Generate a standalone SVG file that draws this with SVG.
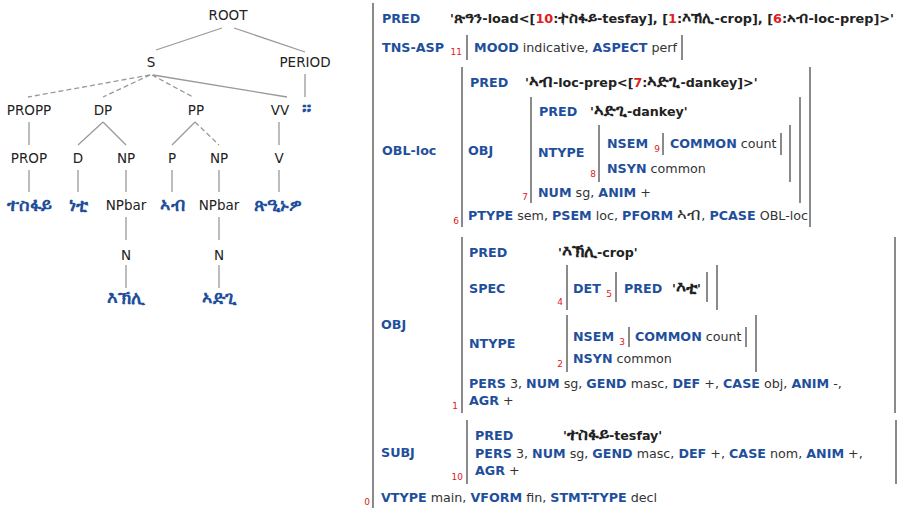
<svg xmlns="http://www.w3.org/2000/svg" width="899" height="508" viewBox="0 0 899 508">
<style>
text{font-family:"DejaVu Sans","Noto Sans",sans-serif}
.t{font-size:13.5px;fill:#222;text-anchor:middle}
.lf{font-size:18px;font-weight:bold;fill:#1f4f9c;text-anchor:middle}
.e{stroke:#999;stroke-width:1.3;fill:none}
.d{stroke-dasharray:5,3}
.f{font-size:12.7px;fill:#333}
.k{font-weight:bold;fill:#1f4f9c}
.q{font-weight:bold;fill:#222}
.g{font-size:17px}
.g2{font-size:15px}
.r{fill:#e02020}
.n{font-size:9px;fill:#e02020;text-anchor:end}
.b{stroke:#8a8a8a;stroke-width:2}
</style>
<rect width="899" height="508" fill="#fff"/>
<g id="tree-edges">
<line class="e" x1="222" y1="28" x2="156" y2="50"/>
<line class="e" x1="234" y1="28" x2="305" y2="52"/>
<line class="e d" x1="150" y1="75" x2="28" y2="97"/>
<line class="e d" x1="150" y1="75" x2="103" y2="97"/>
<line class="e d" x1="152" y1="75" x2="193" y2="97"/>
<line class="e" x1="153" y1="75" x2="287" y2="97"/>
<line class="e" x1="305" y1="74" x2="305" y2="97"/>
<line class="e" x1="29" y1="122" x2="29" y2="145"/>
<line class="e" x1="103" y1="122" x2="78" y2="145"/>
<line class="e" x1="103" y1="122" x2="126" y2="145"/>
<line class="e" x1="195" y1="122" x2="172" y2="145"/>
<line class="e d" x1="195" y1="122" x2="219" y2="145"/>
<line class="e" x1="279" y1="122" x2="279" y2="145"/>
<line class="e" x1="29" y1="170" x2="29" y2="192"/>
<line class="e" x1="78" y1="170" x2="78" y2="192"/>
<line class="e" x1="126" y1="170" x2="126" y2="192"/>
<line class="e" x1="172" y1="170" x2="172" y2="192"/>
<line class="e" x1="219" y1="170" x2="219" y2="192"/>
<line class="e" x1="279" y1="170" x2="279" y2="192"/>
<line class="e" x1="126" y1="217" x2="126" y2="240"/>
<line class="e" x1="219" y1="217" x2="219" y2="240"/>
<line class="e" x1="126" y1="265" x2="126" y2="288"/>
<line class="e" x1="219" y1="265" x2="219" y2="288"/>
</g>
<g id="n-root"><text class="t" x="228" y="20">ROOT</text></g>
<g id="n-s"><text class="t" x="151" y="67">S</text></g>
<g id="n-period"><text class="t" x="305" y="67">PERIOD</text></g>
<g id="n-propp"><text class="t" x="29" y="115">PROPP</text></g>
<g id="n-dp"><text class="t" x="103" y="115">DP</text></g>
<g id="n-pp"><text class="t" x="196" y="115">PP</text></g>
<g id="n-vv"><text class="t" x="280" y="115">VV</text></g>
<g id="n-stop"><text class="lf" x="306" y="115" style="font-size:20px">።</text></g>
<g id="n-prop"><text class="t" x="29" y="163">PROP</text></g>
<g id="n-d"><text class="t" x="78" y="163">D</text></g>
<g id="n-np1"><text class="t" x="126" y="163">NP</text></g>
<g id="n-p"><text class="t" x="172" y="163">P</text></g>
<g id="n-np2"><text class="t" x="219" y="163">NP</text></g>
<g id="n-v"><text class="t" x="279" y="163">V</text></g>
<g id="n-tesfay"><text class="lf" x="29" y="211">ተስፋይ</text></g>
<g id="n-neti"><text class="lf" x="78" y="211">ነቲ</text></g>
<g id="n-npbar1"><text class="t" x="126" y="210">NPbar</text></g>
<g id="n-ab"><text class="lf" x="172" y="211">ኣብ</text></g>
<g id="n-npbar2"><text class="t" x="219" y="210">NPbar</text></g>
<g id="n-verb"><text class="lf" x="278" y="211">ጽዒኑዎ</text></g>
<g id="n-n1"><text class="t" x="126" y="260">N</text></g>
<g id="n-n2"><text class="t" x="219" y="260">N</text></g>
<g id="n-ekhli"><text class="lf" x="126" y="304">እኽሊ</text></g>
<g id="n-adgi"><text class="lf" x="219" y="304">ኣድጊ</text></g>

<g id="fstructure-bars">
<line class="b" x1="373" y1="3" x2="373" y2="508"/>
<line class="b" x1="467" y1="35" x2="467" y2="60"/>
<line class="b" x1="682" y1="35" x2="682" y2="60"/>
<line class="b" x1="462" y1="67" x2="462" y2="227"/>
<line class="b" x1="810" y1="67" x2="810" y2="227"/>
<line class="b" x1="531" y1="97" x2="531" y2="203"/>
<line class="b" x1="800" y1="97" x2="800" y2="203"/>
<line class="b" x1="599" y1="125" x2="599" y2="182"/>
<line class="b" x1="790" y1="125" x2="790" y2="182"/>
<line class="b" x1="663" y1="133" x2="663" y2="155"/>
<line class="b" x1="781" y1="133" x2="781" y2="155"/>
<line class="b" x1="462" y1="237" x2="462" y2="413"/>
<line class="b" x1="895" y1="237" x2="895" y2="413"/>
<line class="b" x1="567" y1="265" x2="567" y2="310"/>
<line class="b" x1="717" y1="265" x2="717" y2="310"/>
<line class="b" x1="616" y1="272" x2="616" y2="302"/>
<line class="b" x1="707" y1="272" x2="707" y2="302"/>
<line class="b" x1="567" y1="315" x2="567" y2="372"/>
<line class="b" x1="756" y1="315" x2="756" y2="372"/>
<line class="b" x1="629" y1="327" x2="629" y2="347"/>
<line class="b" x1="746" y1="327" x2="746" y2="347"/>
<line class="b" x1="467" y1="420" x2="467" y2="484"/>
<line class="b" x1="896" y1="420" x2="896" y2="484"/>
</g>
<g id="fstructure-text" class="f">
<text x="382" y="23"><tspan class="k">PRED</tspan></text>
<text x="450" y="23" class="q" textLength="444" lengthAdjust="spacingAndGlyphs">'<tspan class="g2">ጽዓን</tspan>-load&lt;[<tspan class="r">10</tspan>:<tspan class="g2">ተስፋይ</tspan>-tesfay], [<tspan class="r">1</tspan>:<tspan class="g2">እኽሊ</tspan>-crop], [<tspan class="r">6</tspan>:<tspan class="g2">ኣብ</tspan>-loc-prep]&gt;'</text>
<text x="382" y="52"><tspan class="k">TNS-ASP</tspan></text>
<text class="n" x="462" y="55">11</text>
<text x="474" y="52"><tspan class="k">MOOD</tspan> indicative, <tspan class="k">ASPECT</tspan> perf</text>

<text x="382" y="155"><tspan class="k">OBL-loc</tspan></text>
<text class="n" x="459" y="224">6</text>
<text x="470" y="87"><tspan class="k">PRED</tspan></text>
<text x="525" y="87" class="q">'<tspan class="g">ኣብ</tspan>-loc-prep&lt;[<tspan class="r">7</tspan>:<tspan class="g">ኣድጊ</tspan>-dankey]&gt;'</text>
<text x="468" y="155"><tspan class="k">OBJ</tspan></text>
<text class="n" x="528" y="200">7</text>
<text x="539" y="116"><tspan class="k">PRED</tspan></text>
<text x="590" y="116" class="q">'<tspan class="g">ኣድጊ</tspan>-dankey'</text>
<text x="538" y="157"><tspan class="k">NTYPE</tspan></text>
<text class="n" x="596" y="177">8</text>
<text x="607" y="148"><tspan class="k">NSEM</tspan></text>
<text class="n" x="660" y="152">9</text>
<text x="670" y="148"><tspan class="k">COMMON</tspan> count</text>
<text x="607" y="173"><tspan class="k">NSYN</tspan> common</text>
<text x="538" y="197"><tspan class="k">NUM</tspan> sg, <tspan class="k">ANIM</tspan> +</text>
<text x="468" y="220"><tspan class="k">PTYPE</tspan> sem, <tspan class="k">PSEM</tspan> loc, <tspan class="k">PFORM</tspan> <tspan class="g">ኣብ</tspan>, <tspan class="k">PCASE</tspan> OBL-loc</text>

<text x="381" y="329"><tspan class="k">OBJ</tspan></text>
<text x="469" y="257"><tspan class="k">PRED</tspan></text>
<text x="558" y="257" class="q">'<tspan class="g">እኽሊ</tspan>-crop'</text>
<text x="469" y="293"><tspan class="k">SPEC</tspan></text>
<text class="n" x="563" y="305">4</text>
<text x="573" y="293"><tspan class="k">DET</tspan></text>
<text class="n" x="612" y="297">5</text>
<text x="624" y="293"><tspan class="k">PRED</tspan></text>
<text x="672" y="293" class="q">'<tspan class="g">እቲ</tspan>'</text>
<text x="469" y="348"><tspan class="k">NTYPE</tspan></text>
<text class="n" x="563" y="367">2</text>
<text x="573" y="341"><tspan class="k">NSEM</tspan></text>
<text class="n" x="625" y="345">3</text>
<text x="635" y="341"><tspan class="k">COMMON</tspan> count</text>
<text x="573" y="363"><tspan class="k">NSYN</tspan> common</text>
<text x="469" y="388"><tspan class="k">PERS</tspan> 3, <tspan class="k">NUM</tspan> sg, <tspan class="k">GEND</tspan> masc, <tspan class="k">DEF</tspan> +, <tspan class="k">CASE</tspan> obj, <tspan class="k">ANIM</tspan> -,</text>
<text x="469" y="405"><tspan class="k">AGR</tspan> +</text>
<text class="n" x="458" y="409">1</text>

<text x="381" y="457"><tspan class="k">SUBJ</tspan></text>
<text x="475" y="440"><tspan class="k">PRED</tspan></text>
<text x="563" y="440" class="q">'<tspan class="g">ተስፋይ</tspan>-tesfay'</text>
<text x="475" y="458"><tspan class="k">PERS</tspan> 3, <tspan class="k">NUM</tspan> sg, <tspan class="k">GEND</tspan> masc, <tspan class="k">DEF</tspan> +, <tspan class="k">CASE</tspan> nom, <tspan class="k">ANIM</tspan> +,</text>
<text x="475" y="475"><tspan class="k">AGR</tspan> +</text>
<text class="n" x="463" y="480">10</text>

<text class="n" x="370" y="505">0</text>
<text x="381" y="502"><tspan class="k">VTYPE</tspan> main, <tspan class="k">VFORM</tspan> fin, <tspan class="k">STMT-TYPE</tspan> decl</text>
</g>
</svg>
